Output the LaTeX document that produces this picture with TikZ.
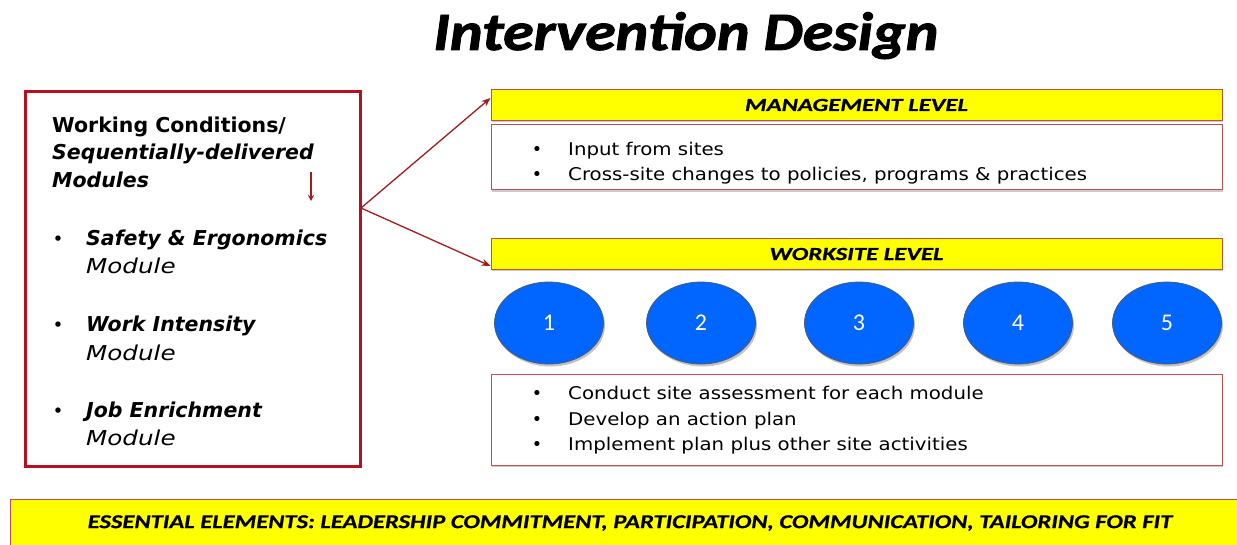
\documentclass[tikz,border=0pt]{standalone}
\usepackage{graphicx}
\usepackage{fontspec}
\setmainfont{Carlito}
\newfontfamily\titlefont[FakeBold=1.6]{Carlito}
\newfontfamily\barfont[FakeBold=0.6]{Carlito}
\newfontfamily\vf{DejaVu Sans}
\newfontfamily\vfw[FakeStretch=1.13]{DejaVu Sans}
\usetikzlibrary{arrows.meta,shadows,shapes.geometric}
\definecolor{ylw}{HTML}{FFFF00}
\definecolor{boxred}{HTML}{C0504D}
\definecolor{lboxred}{HTML}{B8101E}
\definecolor{arrred}{HTML}{A8181C}
\definecolor{cblue}{HTML}{0066FF}
\definecolor{cedge}{HTML}{4A5A70}
\newcommand{\hwide}[2]{\scalebox{#1}[1]{#2}}
\begin{document}
\begin{tikzpicture}[x=1pt,y=-1pt,
  shd/.style={drop shadow={shadow xshift=1.2pt,shadow yshift=-1.8pt,opacity=0.35,fill=black!60}},
  bar/.style={draw=boxred,line width=1pt,fill=ylw,minimum width=731pt,minimum height=31pt,inner sep=0pt,shd,
    font=\barfont\bfseries\itshape\fontsize{18.5}{20}\selectfont},
  tbox/.style={draw=boxred,line width=1pt,fill=white,minimum width=731pt,inner sep=0pt,shd},
  item/.style={anchor=base west,inner sep=0pt,font=\vfw\fontsize{17.5}{20}\selectfont},
  bul/.style={anchor=base,inner sep=0pt,font=\vf\fontsize{17.5}{20}\selectfont},
  litem/.style={anchor=base west,inner sep=0pt,font=\vf\fontsize{20.5}{24}\selectfont},
  circ/.style={ellipse,draw=cedge,line width=0.8pt,fill=cblue,minimum width=109pt,minimum height=82pt,inner sep=0pt,
    text=white,font=\fontsize{24}{26}\selectfont,drop shadow={shadow xshift=1.5pt,shadow yshift=-2.5pt,opacity=0.4,fill=black!60}},
  conn/.style={draw=arrred,line width=1.3pt,-{Stealth[length=9pt,width=7pt]}}
]
\useasboundingbox (0,0) rectangle (1237,545);
% title
\node[anchor=base,inner sep=0pt,font=\titlefont\bfseries\itshape\fontsize{54}{60}\selectfont] (title) at (686,50) {\hwide{1.15}{Intervention Design}};
% left box
\node[draw=lboxred,line width=3pt,fill=white,minimum width=335pt,minimum height=374pt,inner sep=0pt,shd] (lbox) at (192.5,279) {};
\node[litem] (wc) at (52,133) {\bfseries Working Conditions/};
\node[litem] (sd) at (52,160) {\bfseries\itshape Sequentially-delivered};
\node[litem] (mods) at (52,188) {\bfseries\itshape Modules};
\coordinate (sa) at (311,172);
\coordinate (sb) at (311,201);
\draw[draw=arrred,line width=1.3pt,-{Stealth[length=6pt,width=6pt]}] (sa) -- (sb);
\node[bul,font=\vf\fontsize{18.5}{22}\selectfont] (b1) at (58,246) {•};
\node[litem] (m1) at (86,246) {\bfseries\itshape Safety \& Ergonomics};
\node[litem] (m1b) at (86,274) {\itshape\hwide{1.2}{Module}};
\node[bul,font=\vf\fontsize{18.5}{22}\selectfont] (b2) at (58,332) {•};
\node[litem] (m2) at (86,332) {\bfseries\itshape Work Intensity};
\node[litem] (m2b) at (86,360) {\itshape\hwide{1.2}{Module}};
\node[bul,font=\vf\fontsize{18.5}{22}\selectfont] (b3) at (58,417) {•};
\node[litem] (m3) at (86,417) {\bfseries\itshape Job Enrichment};
\node[litem] (m3b) at (86,445) {\itshape\hwide{1.2}{Module}};
% management level
\node[bar] (mgmt) at (856.5,105) {\raisebox{-4pt}{\hwide{1.34}{MANAGEMENT LEVEL}}};
\node[tbox,minimum height=65pt] (mbox) at (856.5,157.5) {};
\node[bul] (mb1) at (537,156) {•};
\node[item] (mt1) at (568,156) {Input from sites};
\node[bul] (mb2) at (537,181) {•};
\node[item] (mt2) at (568,181) {Cross-site changes to policies, programs \& practices};
% worksite level
\node[bar] (work) at (856.5,254) {\raisebox{-2pt}{\hwide{1.34}{WORKSITE LEVEL}}};
\node[circ] (c1) at (549,323) {1};
\node[circ] (c2) at (701,323) {2};
\node[circ] (c3) at (859,323) {3};
\node[circ] (c4) at (1018,323) {4};
\node[circ] (c5) at (1167,323) {5};
\node[tbox,minimum height=91pt] (wbox) at (856.5,419.5) {};
\node[bul] (wb1) at (537,399) {•};
\node[item] (wt1) at (568,399) {Conduct site assessment for each module};
\node[bul] (wb2) at (537,425) {•};
\node[item] (wt2) at (568,425) {Develop an action plan};
\node[bul] (wb3) at (537,450) {•};
\node[item] (wt3) at (568,450) {Implement plan plus other site activities};
% connectors
\coordinate (src) at (361,208);
\draw[conn] (src) -- ([yshift=7pt]mgmt.west);
\draw[conn] (src) -- ([yshift=-12pt]work.west);
% essential elements bar
\node[draw=boxred,line width=1pt,fill=ylw,minimum width=1240pt,minimum height=52pt,inner sep=0pt] (ess) at (630,525) {};
\node[inner sep=0pt,font=\barfont\bfseries\itshape\fontsize{19.7}{22}\selectfont] (esst) at (630,523) {\hwide{1.25}{ESSENTIAL ELEMENTS: LEADERSHIP COMMITMENT, PARTICIPATION, COMMUNICATION, TAILORING FOR FIT}};
\end{tikzpicture}
\end{document}
